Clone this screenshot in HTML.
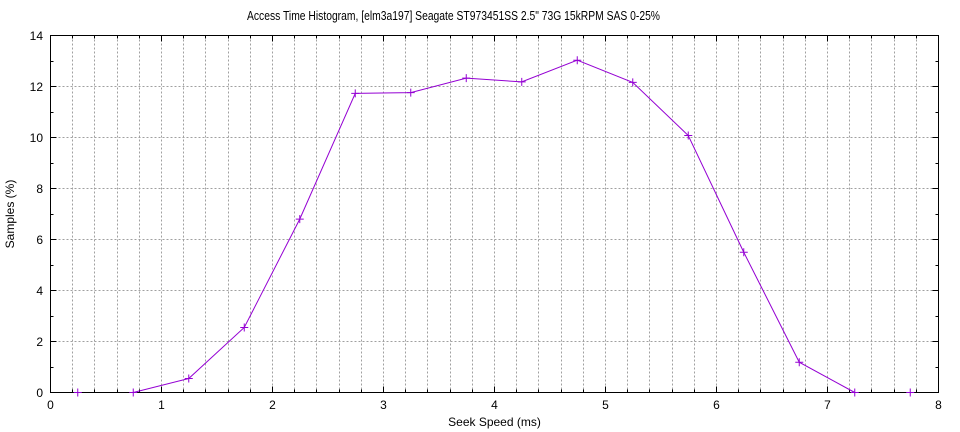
<!DOCTYPE html>
<html><head><meta charset="utf-8"><style>
html,body{margin:0;padding:0;background:#fff;}
svg{display:block;}
text{font-family:"Liberation Sans",sans-serif;fill:#000;}
</style></head><body>
<svg width="960" height="432" viewBox="0 0 960 432" xmlns="http://www.w3.org/2000/svg">
<rect width="960" height="432" fill="#fff"/>
<g stroke="#a0a0a0" stroke-width="1" stroke-dasharray="2,2" fill="none">
<path d="M72.5 35.5V392.5M94.5 35.5V392.5M117.5 35.5V392.5M139.5 35.5V392.5M161.5 35.5V392.5M183.5 35.5V392.5M205.5 35.5V392.5M228.5 35.5V392.5M250.5 35.5V392.5M272.5 35.5V392.5M294.5 35.5V392.5M316.5 35.5V392.5M339.5 35.5V392.5M361.5 35.5V392.5M383.5 35.5V392.5M405.5 35.5V392.5M427.5 35.5V392.5M450.5 35.5V392.5M472.5 35.5V392.5M494.5 35.5V392.5M516.5 35.5V392.5M538.5 35.5V392.5M561.5 35.5V392.5M583.5 35.5V392.5M605.5 35.5V392.5M627.5 35.5V392.5M649.5 35.5V392.5M672.5 35.5V392.5M694.5 35.5V392.5M716.5 35.5V392.5M738.5 35.5V392.5M760.5 35.5V392.5M783.5 35.5V392.5M805.5 35.5V392.5M827.5 35.5V392.5M849.5 35.5V392.5M871.5 35.5V392.5M894.5 35.5V392.5M916.5 35.5V392.5"/>
<path d="M50.5 341.5H938.5M50.5 290.5H938.5M50.5 239.5H938.5M50.5 188.5H938.5M50.5 137.5H938.5M50.5 86.5H938.5"/>
</g>
<g stroke="#000" stroke-width="1" fill="none">
<path d="M161.5 392.5v-6M272.5 392.5v-6M383.5 392.5v-6M494.5 392.5v-6M605.5 392.5v-6M716.5 392.5v-6M827.5 392.5v-6M161.5 35.5v6M272.5 35.5v6M383.5 35.5v6M494.5 35.5v6M605.5 35.5v6M716.5 35.5v6M827.5 35.5v6"/>
<path d="M72.5 392.5v-3M94.5 392.5v-3M117.5 392.5v-3M139.5 392.5v-3M183.5 392.5v-3M205.5 392.5v-3M228.5 392.5v-3M250.5 392.5v-3M294.5 392.5v-3M316.5 392.5v-3M339.5 392.5v-3M361.5 392.5v-3M405.5 392.5v-3M427.5 392.5v-3M450.5 392.5v-3M472.5 392.5v-3M516.5 392.5v-3M538.5 392.5v-3M561.5 392.5v-3M583.5 392.5v-3M627.5 392.5v-3M649.5 392.5v-3M672.5 392.5v-3M694.5 392.5v-3M738.5 392.5v-3M760.5 392.5v-3M783.5 392.5v-3M805.5 392.5v-3M849.5 392.5v-3M871.5 392.5v-3M894.5 392.5v-3M916.5 392.5v-3"/>
<path d="M72.5 35.5v3M94.5 35.5v3M117.5 35.5v3M139.5 35.5v3M183.5 35.5v3M205.5 35.5v3M228.5 35.5v3M250.5 35.5v3M294.5 35.5v3M316.5 35.5v3M339.5 35.5v3M361.5 35.5v3M405.5 35.5v3M427.5 35.5v3M450.5 35.5v3M472.5 35.5v3M516.5 35.5v3M538.5 35.5v3M561.5 35.5v3M583.5 35.5v3M627.5 35.5v3M649.5 35.5v3M672.5 35.5v3M694.5 35.5v3M738.5 35.5v3M760.5 35.5v3M783.5 35.5v3M805.5 35.5v3M849.5 35.5v3M871.5 35.5v3M894.5 35.5v3M916.5 35.5v3"/>
<path d="M50.5 341.5h6M50.5 290.5h6M50.5 239.5h6M50.5 188.5h6M50.5 137.5h6M50.5 86.5h6M938.5 341.5h-6M938.5 290.5h-6M938.5 239.5h-6M938.5 188.5h-6M938.5 137.5h-6M938.5 86.5h-6"/>
<path d="M50.5 367.5h3M50.5 316.5h3M50.5 265.5h3M50.5 214.5h3M50.5 163.5h3M50.5 112.5h3M50.5 61.5h3M938.5 367.5h-3M938.5 316.5h-3M938.5 265.5h-3M938.5 214.5h-3M938.5 163.5h-3M938.5 112.5h-3M938.5 61.5h-3"/>
<rect x="50.5" y="35.5" width="888" height="357"/>
</g>
<polyline fill="none" stroke="#9400d3" stroke-width="1" points="133.25,392.5 188.75,378.5 244.25,327.5 299.75,219.1 355.25,93.4 410.75,92.6 466.25,78.1 521.75,81.9 577.25,60.2 632.75,82.4 688.25,135.5 743.75,252.25 799.25,362.2 854.75,392.5"/>
<g stroke="#9400d3" stroke-width="1" fill="none">
<path d="M73.75 392.5h8M77.75 388.5v8M129.25 392.5h8M133.25 388.5v8M184.75 378.5h8M188.75 374.5v8M240.25 327.5h8M244.25 323.5v8M295.75 219.1h8M299.75 215.1v8M351.25 93.4h8M355.25 89.4v8M406.75 92.6h8M410.75 88.6v8M462.25 78.1h8M466.25 74.1v8M517.75 81.9h8M521.75 77.9v8M573.25 60.2h8M577.25 56.2v8M628.75 82.4h8M632.75 78.4v8M684.25 135.5h8M688.25 131.5v8M739.75 252.25h8M743.75 248.25v8M795.25 362.2h8M799.25 358.2v8M850.75 392.5h8M854.75 388.5v8M906.25 392.5h8M910.25 388.5v8"/>
</g>
<g font-size="12" text-anchor="end">
<text x="43" y="397">0</text>
<text x="43" y="346">2</text>
<text x="43" y="295">4</text>
<text x="43" y="244">6</text>
<text x="43" y="193">8</text>
<text x="43" y="142">10</text>
<text x="43" y="91">12</text>
<text x="43" y="40">14</text>
</g>
<g font-size="12" text-anchor="middle">
<text x="50.5" y="409">0</text>
<text x="161.5" y="409">1</text>
<text x="272.5" y="409">2</text>
<text x="383.5" y="409">3</text>
<text x="494.5" y="409">4</text>
<text x="605.5" y="409">5</text>
<text x="716.5" y="409">6</text>
<text x="827.5" y="409">7</text>
<text x="938.5" y="409">8</text>
<text x="494.5" y="426">Seek Speed (ms)</text>
<text x="453.5" y="20" font-size="13" textLength="413" lengthAdjust="spacingAndGlyphs">Access Time Histogram, [elm3a197] Seagate ST973451SS 2.5" 73G 15kRPM SAS 0-25%</text>
<text transform="translate(14,214) rotate(-90)">Samples (%)</text>
</g>
</svg>
</body></html>
